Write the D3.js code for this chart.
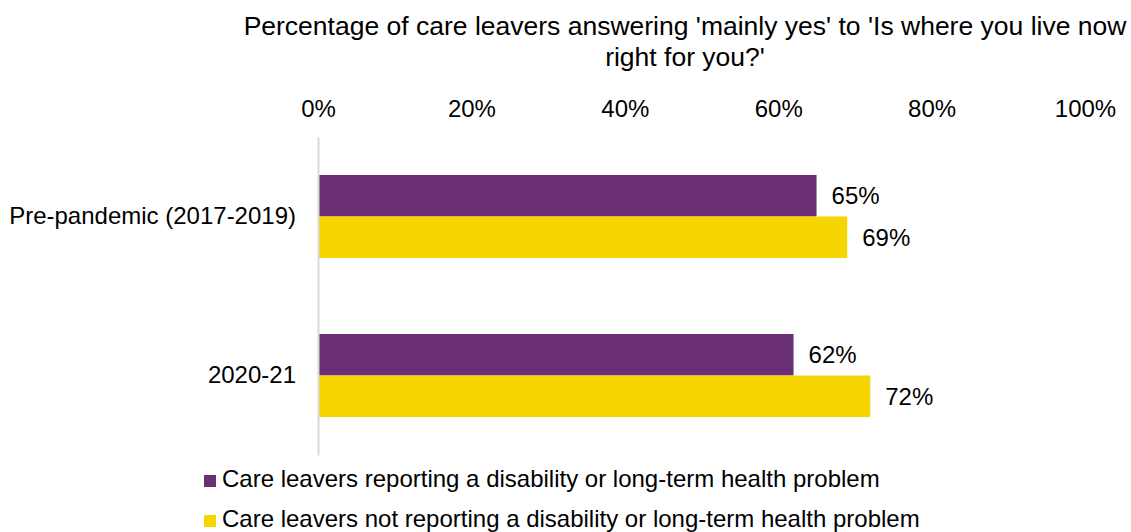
<!DOCTYPE html>
<html>
<head>
<meta charset="utf-8">
<script src="https://cdn.jsdelivr.net/npm/d3@7"></script>
<style>
  html, body { margin: 0; padding: 0; background: #fff; }
  svg text { font-family: "Liberation Sans", Arial, Helvetica, sans-serif; fill: #000; }
</style>
</head>
<body>
<svg id="chart" width="1131" height="532"></svg>
<script>
// Chart data
const categories = ["Pre-pandemic (2017-2019)", "2020-21"];
const seriesNames = [
  "Care leavers reporting a disability or long-term health problem",
  "Care leavers not reporting a disability or long-term health problem"
];
const disabilityValues = [65, 62];
const noDisabilityValues = [69, 72];
const tickValues = [0, 20, 40, 60, 80, 100];
const titleLines = [
  "Percentage of care leavers answering 'mainly yes' to 'Is where you live now",
  "right for you?'"
];

const colors = ["#6b2f75", "#f7d500"];
const fontSize = 24;
const titleSize = 26.5;

const svg = d3.select("#chart");

const rows = categories.map((c, i) => ({
  category: c,
  values: [disabilityValues[i], noDisabilityValues[i]]
}));

// Scales
const x = d3.scaleLinear().domain([0, 100]).range([318, 1085]);
const y = d3.scaleBand().domain(categories).range([137, 455])
  .paddingInner(0.478).paddingOuter(0.239);
const ySub = d3.scaleBand().domain([0, 1]).range([0, y.bandwidth()]);

// Title
svg.append("text")
  .attr("text-anchor", "middle")
  .attr("font-size", titleSize)
  .selectAll("tspan").data(titleLines).join("tspan")
  .attr("x", 685)
  .attr("y", (d, i) => 35 + i * 31)
  .text(d => d);

// Top value axis (labels only)
const xAxis = d3.axisTop(x).tickValues(tickValues)
  .tickFormat(d => d + "%").tickSize(0).tickPadding(0);
const xg = svg.append("g").attr("transform", "translate(0,117)").call(xAxis);
xg.select(".domain").remove();
xg.selectAll("text").attr("font-size", fontSize).attr("font-family", null);

// Bars
const groups = svg.append("g").selectAll("g").data(rows).join("g")
  .attr("transform", d => `translate(0,${y(d.category)})`);

groups.selectAll("rect").data(d => d.values).join("rect")
  .attr("x", x(0))
  .attr("y", (d, i) => ySub(i))
  .attr("width", d => x(d) - x(0))
  .attr("height", ySub.bandwidth())
  .attr("fill", (d, i) => colors[i]);

groups.selectAll("text.value").data(d => d.values).join("text")
  .attr("class", "value")
  .attr("x", d => x(d) + 15)
  .attr("y", (d, i) => ySub(i) + ySub.bandwidth() / 2)
  .attr("dy", "0.35em")
  .attr("font-size", fontSize)
  .text(d => d + "%");

// Category axis
const yAxis = d3.axisLeft(y).tickSize(0).tickPadding(22);
const yg = svg.append("g").attr("transform", `translate(${x(0)},0)`).call(yAxis);
yg.select(".domain").attr("stroke", "#d9d9d9").attr("stroke-width", 2);
yg.selectAll("text").attr("font-size", fontSize).attr("font-family", null);

// Legend
const legend = svg.append("g").selectAll("g").data(seriesNames).join("g")
  .attr("transform", (d, i) => `translate(204,${475 + i * 40})`);
legend.append("rect").attr("width", 12).attr("height", 12)
  .attr("fill", (d, i) => colors[i]);
legend.append("text").attr("x", 18).attr("y", 4).attr("dy", "0.35em")
  .attr("font-size", fontSize).text(d => d);
</script>
</body>
</html>
